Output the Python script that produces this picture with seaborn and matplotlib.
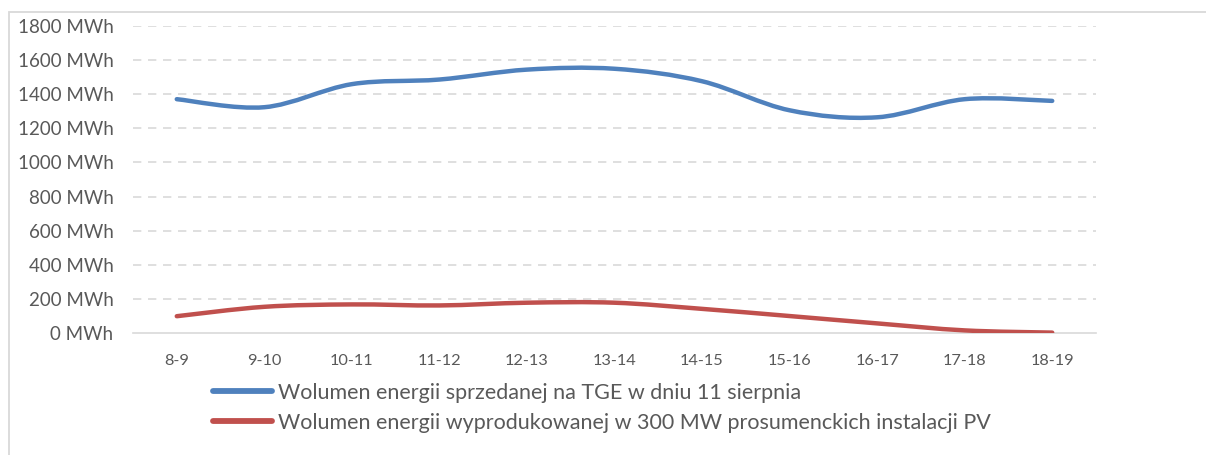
import numpy as np
import pandas as pd
import seaborn as sns
import matplotlib
matplotlib.use("Agg")
import matplotlib.pyplot as plt
from matplotlib.path import Path
from matplotlib.patches import PathPatch, Rectangle
from matplotlib.lines import Line2D

# ---- data ----
hours = ["8-9", "9-10", "10-11", "11-12", "12-13", "13-14",
         "14-15", "15-16", "16-17", "17-18", "18-19"]
tge_volume = [1370, 1323, 1458, 1485, 1543, 1548, 1475, 1305, 1264, 1370, 1360]
pv_volume = [100, 155, 169, 163, 179, 179, 143, 101, 58, 17, 4]
series_names = ["Wolumen energii sprzedanej na TGE w dniu 11 sierpnia",
                "Wolumen energii wyprodukowanej w 300 MW prosumenckich instalacji PV"]
y_ticks = [0, 200, 400, 600, 800, 1000, 1200, 1400, 1600, 1800]

colors = ["#4F81BD", "#C0504D"]
text_color = "#595959"
grid_color = "#D9D9D9"

sns.set_theme(style="white")
plt.rcParams["font.family"] = ["Lato", "DejaVu Sans"]

df = pd.DataFrame({
    "pos": list(range(len(hours))) * 2,
    "value": tge_volume + pv_volume,
    "series": [series_names[0]] * len(hours) + [series_names[1]] * len(hours),
})

W, H = 1206, 455
fig = plt.figure(figsize=(W / 100, H / 100), dpi=100)
ax = fig.add_axes([133 / W, 1 - 333.3 / H, (1096 - 133) / W, (333.3 - 25.7) / H])

sns.lineplot(data=df, x="pos", y="value", hue="series", palette=colors,
             linewidth=3.2, ax=ax, legend=False, sort=False)


def smooth_path(x, y):
    # Excel-style smoothed line: cubic Bezier through each point
    pts = np.column_stack([x, y]).astype(float)
    n = len(pts)
    verts = [pts[0]]
    codes = [Path.MOVETO]
    for i in range(n - 1):
        p0 = pts[i - 1] if i > 0 else pts[i]
        p1 = pts[i]
        p2 = pts[i + 1]
        p3 = pts[i + 2] if i + 2 < n else pts[i + 1]
        c1 = p1 + (p2 - p0) / 6.0
        c2 = p2 - (p3 - p1) / 6.0
        verts += [c1, c2, p2]
        codes += [Path.CURVE4] * 3
    return Path(verts, codes)


# replace straight seaborn segments with smoothed curves of the same data
for line, col in zip(list(ax.lines), colors):
    xd, yd = line.get_xdata(), line.get_ydata()
    line.set_visible(False)
    patch = PathPatch(smooth_path(xd, yd), facecolor="none", edgecolor=col,
                      linewidth=3.2, capstyle="round", joinstyle="round", zorder=3)
    ax.add_patch(patch)

ax.set_xlim(-0.5, len(hours) - 0.5)
ax.set_ylim(0, 1800)
ax.set_xticks(range(len(hours)))
ax.set_xticklabels(hours)
ax.set_yticks(y_ticks)
ax.set_yticklabels([f"{v} MWh" for v in y_ticks])
ax.set_xlabel("")
ax.set_ylabel("")

for v in y_ticks[1:]:
    ax.axhline(v, color=grid_color, linewidth=1.2, linestyle=(0, (5, 4)), zorder=1)

for s in ["top", "right", "left"]:
    ax.spines[s].set_visible(False)
ax.spines["bottom"].set_color(grid_color)
ax.spines["bottom"].set_linewidth(1.2)

ax.tick_params(axis="y", length=0, pad=14, labelsize=13.5, labelcolor=text_color)
ax.tick_params(axis="x", length=0, pad=15, labelsize=11.8, labelcolor=text_color)

handles = [Line2D([0], [0], color=c, linewidth=4.2, solid_capstyle="round") for c in colors]
fig.legend(handles, series_names, loc="upper left",
           bbox_to_anchor=(213 / W, 1 - 383 / H), frameon=False,
           fontsize=15.5, handlelength=2.75, handletextpad=0.25,
           labelspacing=0.45, borderpad=0, borderaxespad=0,
           labelcolor=text_color)

# chart area border (extends beyond the image on the right and bottom)
fig.patches.append(Rectangle((8.5 / W, -0.1), 1.2, 1 - 11.5 / H + 0.1,
                             transform=fig.transFigure, fill=False,
                             edgecolor="#D9D9D9", linewidth=1.3))

fig.savefig("out.png", dpi=100, facecolor="white")
